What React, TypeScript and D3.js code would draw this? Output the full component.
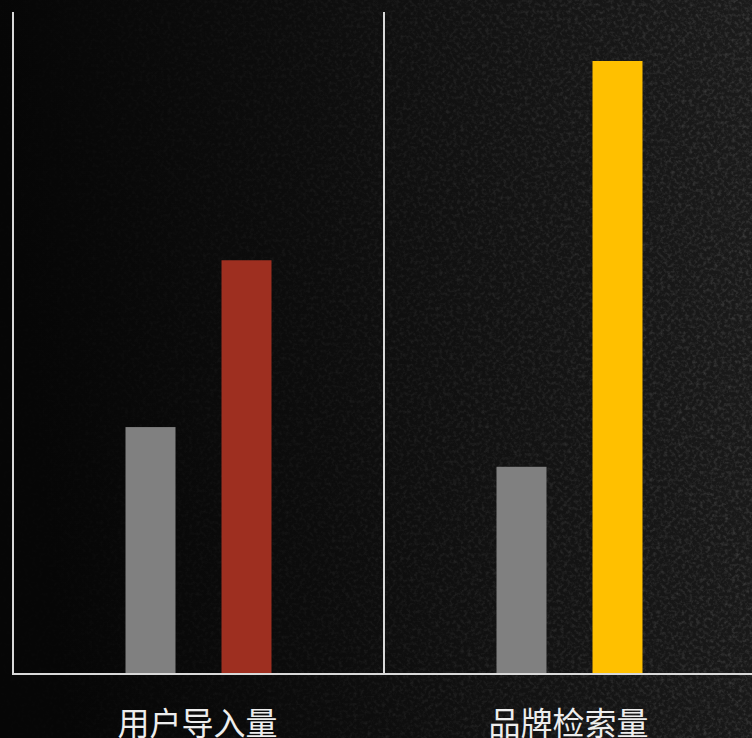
import React from "react";
import * as d3 from "d3";

const categories = ["用户导入量", "品牌检索量"];
const baselineValues = [37.3, 31.3];
const highlightValues = [62.5, 92.6];
const highlightColors = ["#9e2f20", "#ffc000"];
const baselineColor = "#808080";

const W = 752;
const H = 738;

export default function App() {
  const x = d3.scaleBand<string>().domain(categories).range([13, 755]);
  const y = d3.scaleLinear().domain([0, 100]).range([674, 12]);
  const barW = 50;

  return (
    <div style={{ position: "fixed", left: 0, top: 0, width: W, height: H }}>
      <svg width={W} height={H} style={{ display: "block" }}>
        <defs>
          <linearGradient id="bg" x1="0" y1="0.1" x2="1" y2="0">
            <stop offset="0" stopColor="#060606" />
            <stop offset="0.4" stopColor="#0d0d0d" />
            <stop offset="1" stopColor="#1b1b1b" />
          </linearGradient>
          <filter id="noise" x="0" y="0" width="100%" height="100%">
            <feTurbulence type="fractalNoise" baseFrequency="0.28" numOctaves="3" seed="7" result="t" />
            <feColorMatrix type="matrix" values="0 0 0 0 1  0 0 0 0 1  0 0 0 0 1  1.6 0 0 0 -0.7" />
          </filter>
          <linearGradient id="fade" x1="0" y1="0" x2="1" y2="0">
            <stop offset="0" stopColor="#fff" stopOpacity="0.05" />
            <stop offset="0.4" stopColor="#fff" stopOpacity="0.3" />
            <stop offset="1" stopColor="#fff" stopOpacity="0.9" />
          </linearGradient>
          <mask id="fm">
            <rect width={W} height={H} fill="url(#fade)" />
          </mask>
        </defs>
        <rect width={W} height={H} fill="url(#bg)" />
        <rect width={W} height={H} filter="url(#noise)" mask="url(#fm)" opacity="0.22" />
        {categories.map((c, i) => {
          const cx = (x(c) as number) + x.bandwidth() / 2;
          const g = cx - 48;
          const h = cx + 48;
          return (
            <g key={c}>
              <rect x={g - barW / 2} y={y(baselineValues[i])} width={barW} height={y(0) - y(baselineValues[i])} fill={baselineColor} />
              <rect x={h - barW / 2} y={y(highlightValues[i])} width={barW} height={y(0) - y(highlightValues[i])} fill={highlightColors[i]} />
              <text x={cx - 1} y={735} textAnchor="middle" fontFamily="'Noto Sans CJK SC', sans-serif" fontSize={32} fill="#ededed">
                {c}
              </text>
            </g>
          );
        })}
        {categories.map((c) => (
          <line key={c} x1={(x(c) as number)} x2={(x(c) as number)} y1={12} y2={675} stroke="#d9d9d9" strokeWidth={2} />
        ))}
        <line x1={12} x2={W} y1={674} y2={674} stroke="#d9d9d9" strokeWidth={2} />
      </svg>
    </div>
  );
}
